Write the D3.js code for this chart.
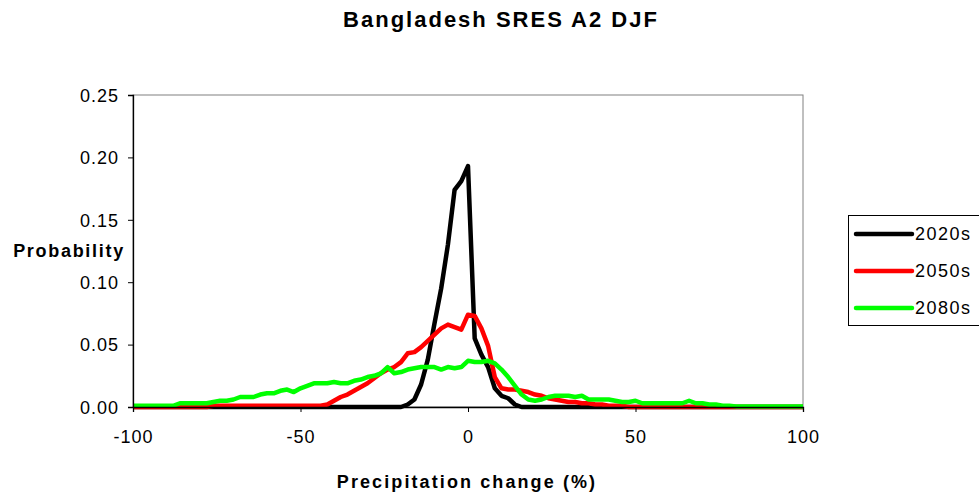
<!DOCTYPE html>
<html>
<head>
<meta charset="utf-8">
<script src="https://cdn.jsdelivr.net/npm/d3@7"></script>
<style>
  body { margin: 0; background: #fff; }
  svg text { font-family: "Liberation Sans", Arial, sans-serif; }
</style>
</head>
<body>
<svg id="chart" width="979" height="492"></svg>
<script>
// precipitation change (%) in steps of 2, -100 .. 100
var changes = d3.range(-100, 101, 2);

var seriesNames = ["2020s", "2050s", "2080s"];
var seriesColors = ["#000000", "#ff0000", "#00ff00"];

// 2020s
var p2020 = [
  0, 0, 0, 0, 0, 0, 0, 0, 0, 0,                                   // -100 .. -82
  0, 0, 0, 0, 0, 0, 0, 0, 0, 0,                                   // -80 .. -62
  0, 0, 0, 0, 0, 0, 0, 0, 0, 0,                                   // -60 .. -42
  0, 0, 0, 0, 0, 0, 0, 0, 0, 0,                                   // -40 .. -22
  0, 0.002, 0.006, 0.018, 0.038, 0.067, 0.095, 0.130, 0.174, 0.181, // -20 .. -2
  0.193, 0.055, 0.042, 0.032, 0.015, 0.009, 0.007, 0.002, 0, 0,   // 0 .. 18
  0, 0, 0, 0, 0, 0, 0, 0, 0, 0,                                   // 20 .. 38
  0, 0, 0, 0, 0, 0, 0, 0, 0, 0,                                   // 40 .. 58
  0, 0, 0, 0, 0, 0, 0, 0, 0, 0,                                   // 60 .. 78
  0, 0, 0, 0, 0, 0, 0, 0, 0, 0,                                   // 80 .. 98
  0                                                               // 100
];

// 2050s
var p2050 = [
  0, 0, 0, 0, 0, 0, 0, 0, 0, 0,                                   // -100 .. -82
  0, 0, 0.001, 0.001, 0.001, 0.001, 0.001, 0.001, 0.001, 0.001,   // -80 .. -62
  0.001, 0.001, 0.001, 0.001, 0.001, 0.001, 0.001, 0.001, 0.001, 0.002, // -60 .. -42
  0.005, 0.008, 0.010, 0.013, 0.016, 0.019, 0.023, 0.027, 0.030, 0.032, // -40 .. -22
  0.036, 0.043, 0.044, 0.048, 0.053, 0.058, 0.063, 0.066, 0.064, 0.062, // -20 .. -2
  0.074, 0.073, 0.063, 0.049, 0.024, 0.015, 0.014, 0.014, 0.013, 0.012, // 0 .. 18
  0.010, 0.009, 0.007, 0.006, 0.005, 0.004, 0.004, 0.003, 0.003, 0.002, // 20 .. 38
  0.002, 0.001, 0.001, 0.001, 0, 0, 0, 0, 0, 0,                   // 40 .. 58
  0, 0, 0, 0, 0, 0, 0, 0, 0, 0,                                   // 60 .. 78
  0, 0, 0, 0, 0, 0, 0, 0, 0, 0,                                   // 80 .. 98
  0                                                               // 100
];

// 2080s
var p2080 = [
  0.001, 0.001, 0.001, 0.001, 0.001, 0.001, 0.001, 0.003, 0.003, 0.003, // -100 .. -82
  0.003, 0.003, 0.004, 0.005, 0.005, 0.006, 0.008, 0.008, 0.008, 0.010, // -80 .. -62
  0.011, 0.011, 0.013, 0.014, 0.012, 0.015, 0.017, 0.019, 0.019, 0.019, // -60 .. -42
  0.020, 0.019, 0.019, 0.021, 0.022, 0.024, 0.025, 0.027, 0.032, 0.027, // -40 .. -22
  0.028, 0.030, 0.031, 0.032, 0.032, 0.032, 0.030, 0.032, 0.031, 0.032, // -20 .. -2
  0.037, 0.036, 0.036, 0.037, 0.035, 0.030, 0.024, 0.017, 0.010, 0.006, // 0 .. 18
  0.005, 0.006, 0.008, 0.009, 0.009, 0.009, 0.008, 0.009, 0.006, 0.006, // 20 .. 38
  0.006, 0.006, 0.005, 0.004, 0.004, 0.005, 0.003, 0.003, 0.003, 0.003, // 40 .. 58
  0.003, 0.003, 0.003, 0.005, 0.003, 0.003, 0.002, 0.002, 0.001, 0.001, // 60 .. 78
  0.0005, 0.0005, 0.0005, 0.0005, 0.0005, 0.0005, 0.0005, 0.0005, 0.0005, 0.0005, // 80 .. 98
  0.0005                                                          // 100
];

var xTicks = [-100, -50, 0, 50, 100];
var yTicks = [0, 0.05, 0.10, 0.15, 0.20, 0.25];

var svg = d3.select("#chart");

// plot area edges (don't call it "top", that clashes with window.top)
var plotLeft = 133, plotRight = 803, plotTop = 95, plotBottom = 407;

var x = d3.scaleLinear().domain([-100, 100]).range([plotLeft, plotRight]);
var y = d3.scaleLinear().domain([0, 0.25]).range([plotBottom, plotTop]);

// plot frame (grey top/right)
svg.append("rect")
  .attr("x", plotLeft).attr("y", plotTop)
  .attr("width", plotRight - plotLeft).attr("height", plotBottom - plotTop)
  .attr("fill", "#fff")
  .attr("stroke", "#808080")
  .attr("stroke-width", 1);

// series lines
var line = d3.line()
  .x(function(d, i) { return x(changes[i]); })
  .y(function(d) { return y(d); });

var allSeries = [p2020, p2050, p2080];
allSeries.forEach(function(vals, k) {
  svg.append("path")
    .datum(vals)
    .attr("fill", "none")
    .attr("stroke", seriesColors[k])
    .attr("stroke-width", 4.5)
    .attr("stroke-linejoin", "round")
    .attr("d", line);
});

// axes
var xAxis = svg.append("g")
  .attr("transform", "translate(0," + plotBottom + ")")
  .call(d3.axisBottom(x).tickValues(xTicks).tickSize(5).tickPadding(18)
    .tickFormat(function(d) { return String(d); }));
var yAxis = svg.append("g")
  .attr("transform", "translate(" + plotLeft + ",0)")
  .call(d3.axisLeft(y).tickValues(yTicks).tickSize(5).tickPadding(9).tickFormat(d3.format(".2f")));

[xAxis, yAxis].forEach(function(g) {
  g.select(".domain").attr("stroke", "#000").attr("stroke-width", 1.3);
  g.selectAll(".tick line").attr("stroke", "#000");
  g.selectAll(".tick text")
    .attr("fill", "#000")
    .style("font-size", "18px")
    .style("letter-spacing", "1px")
    .style("font-family", "'Liberation Sans', Arial, sans-serif");
});
yAxis.selectAll(".tick text").attr("dy", "0.35em");

// title
svg.append("text")
  .attr("x", 501).attr("y", 27)
  .attr("text-anchor", "middle")
  .style("font-size", "22px").style("font-weight", "bold")
  .style("letter-spacing", "2px")
  .text("Bangladesh SRES A2 DJF");

svg.append("text")
  .attr("x", 69).attr("y", 257)
  .attr("text-anchor", "middle")
  .style("font-size", "18px").style("font-weight", "bold")
  .style("letter-spacing", "1.7px")
  .text("Probability");

svg.append("text")
  .attr("x", 467).attr("y", 488)
  .attr("text-anchor", "middle")
  .style("font-size", "18px").style("font-weight", "bold")
  .style("letter-spacing", "2.1px")
  .text("Precipitation change (%)");

// legend
var legend = svg.append("g");
legend.append("rect")
  .attr("x", 848.5).attr("y", 215.5)
  .attr("width", 140).attr("height", 110)
  .attr("fill", "#fff").attr("stroke", "#000");

seriesNames.forEach(function(name, k) {
  var ly = 234 + k * 37;
  legend.append("line")
    .attr("x1", 856).attr("x2", 912)
    .attr("y1", ly).attr("y2", ly)
    .attr("stroke", seriesColors[k]).attr("stroke-width", 4.5)
    .attr("stroke-linecap", "round");
  legend.append("text")
    .attr("x", 915).attr("y", ly + 6)
    .style("font-size", "18px")
    .style("letter-spacing", "1.5px")
    .text(name);
});
</script>
</body>
</html>
